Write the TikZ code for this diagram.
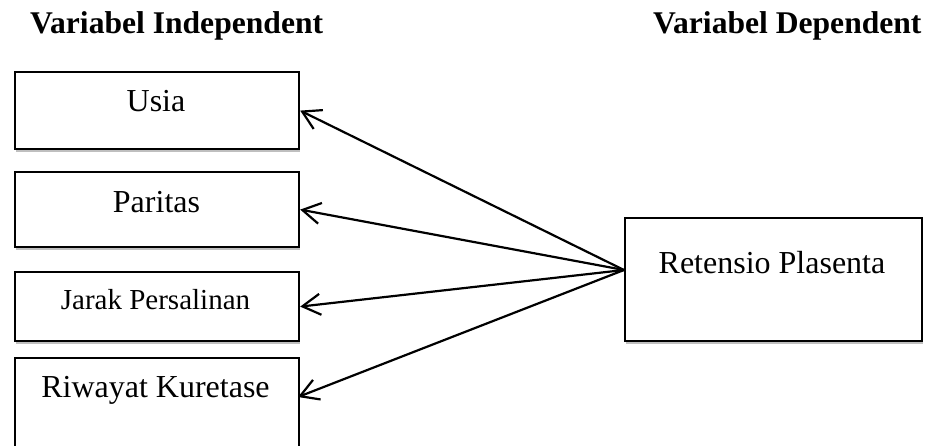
\documentclass[tikz,border=0pt]{standalone}
\usepackage{fontspec}
\setmainfont{Liberation Serif}
\usetikzlibrary{arrows.meta,shadows,positioning}
\begin{document}
\begin{tikzpicture}[x=1pt,y=-1pt,
  varbox/.style={draw=black,line width=2.2pt,fill=white,rectangle,inner sep=0pt,
    anchor=north west,
    drop shadow={shadow xshift=1pt,shadow yshift=-3pt,fill=black,opacity=0.25}},
  boxtext/.style={anchor=base,inner sep=0pt,font=\fontsize{32}{36}\selectfont},
  smalltext/.style={anchor=base,inner sep=0pt,font=\fontsize{29}{34}\selectfont},
  headtext/.style={anchor=base west,inner sep=0pt,font=\fontsize{31.6}{38}\selectfont\bfseries},
  arr/.style={line width=2.2pt,-{Straight Barb[length=18pt,width=21pt,line width=2.2pt]}}]
\useasboundingbox (0,0) rectangle (935,445);
\node[headtext] (hind) at (30,33) {Variabel Independent};
\node[headtext] (hdep) at (653,33) {Variabel Dependent};
\node[varbox,minimum width=284pt,minimum height=77pt] (b1) at (14,71) {};
\node[varbox,minimum width=284pt,minimum height=75pt] (b2) at (14,171) {};
\node[varbox,minimum width=284pt,minimum height=69pt] (b3) at (14,271) {};
\node[varbox,minimum width=284pt,minimum height=92pt] (b4) at (14,357) {};
\node[varbox,minimum width=297pt,minimum height=123pt] (r) at (624,217) {};
\node[boxtext] (t1) at (156,111) {Usia};
\node[boxtext] (t2) at (156.5,212) {Paritas};
\node[smalltext] (t3) at (155.5,309) {Jarak Persalinan};
\node[boxtext] (t4) at (155.5,397) {Riwayat Kuretase};
\node[boxtext] (tr) at (772,273) {Retensio Plasenta};
\coordinate (hub) at (624,270);
\coordinate (e4) at (298,397);
\draw[arr] (hub) -- (b1.east);
\draw[arr] (hub) -- (b2.east);
\draw[arr] (hub) -- (b3.east);
\draw[arr] (hub) -- (e4);
\end{tikzpicture}
\end{document}
